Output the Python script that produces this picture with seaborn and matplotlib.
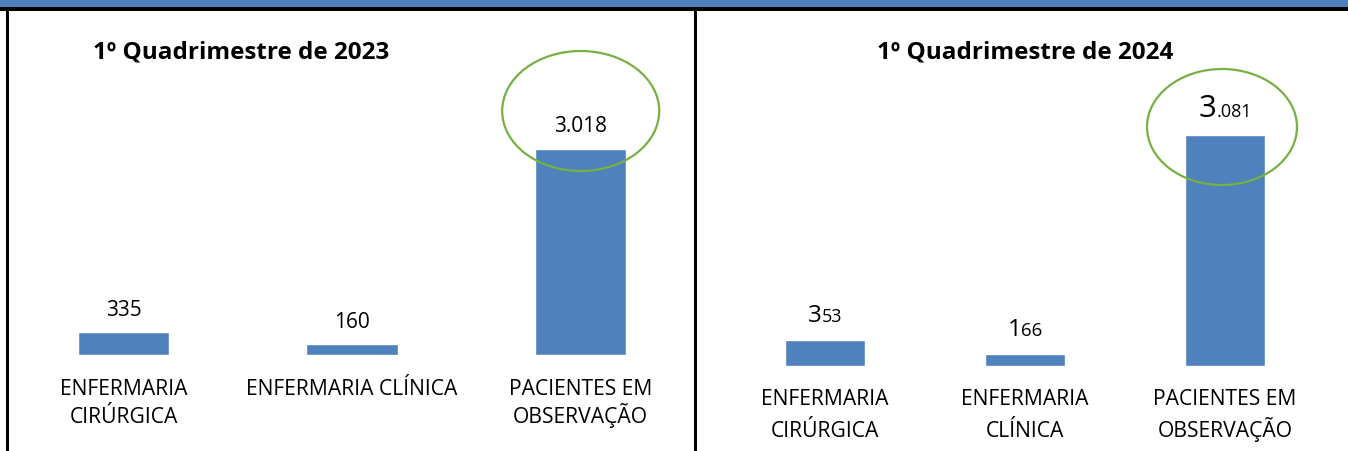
import matplotlib
matplotlib.use("Agg")
import matplotlib.pyplot as plt
from matplotlib.patches import Rectangle, Ellipse
import pandas as pd
import seaborn as sns

# Internações por setor, 1º quadrimestre
titulo_2023 = "1º Quadrimestre de 2023"
titulo_2024 = "1º Quadrimestre de 2024"
setores_2023 = ["ENFERMARIA\nCIRÚRGICA", "ENFERMARIA CLÍNICA", "PACIENTES EM\nOBSERVAÇÃO"]
setores_2024 = ["ENFERMARIA\nCIRÚRGICA", "ENFERMARIA\nCLÍNICA", "PACIENTES EM\nOBSERVAÇÃO"]
valores_2023 = [335, 160, 3018]
valores_2024 = [353, 166, 3081]

AZUL = "#4F81BD"
VERDE = "#77B043"
W, H, DPI = 1348, 452, 100

sns.set_theme(style="white")
plt.rcParams["font.family"] = ["Open Sans", "DejaVu Sans"]

fig = plt.figure(figsize=(W / DPI, H / DPI), dpi=DPI)


def fx(px):
    return px / W


def fy(py):
    return 1 - py / H


def fmt(v):
    return f"{v:,}".replace(",", ".")


# moldura: faixa azul no topo, linha preta e divisórias
fig.add_artist(Rectangle((0, fy(7.5)), 1, 7.5 / H, transform=fig.transFigure,
                         color=AZUL, lw=0))
fig.add_artist(Rectangle((0, fy(12)), 1, 4.5 / H, transform=fig.transFigure,
                         color="black", lw=0))
fig.add_artist(Rectangle((fx(5.5), 0), 3.5 / W, fy(12), transform=fig.transFigure,
                         color="black", lw=0))
fig.add_artist(Rectangle((fx(694), 0), 3 / W, fy(12), transform=fig.transFigure,
                         color="black", lw=0))

ax1 = fig.add_axes([fx(9.25), fy(356), fx(685.75), 336 / H])
ax2 = fig.add_axes([fx(725), fy(367), fx(600), 347 / H])

df23 = pd.DataFrame({"setor": setores_2023, "total": valores_2023})
df24 = pd.DataFrame({"setor": setores_2024, "total": valores_2024})

sns.barplot(data=df23, x="setor", y="total", color=AZUL, saturation=1,
            width=0.4, ax=ax1)
sns.barplot(data=df24, x="setor", y="total", color=AZUL, saturation=1,
            width=0.4, ax=ax2)

ax1.set_ylim(0, 336 * 3018 / 206)
ax2.set_ylim(0, 347 * 3081 / 231)

# nomes dos setores, uma linha por vez, com linhas de base fixas (pt abaixo do eixo)
for ax, setores, linhas_pt in ((ax1, setores_2023, (28.1, 48.3)),
                               (ax2, setores_2024, (27.4, 50.4))):
    ax.set_xlim(-0.5, 2.5)
    ax.set_xlabel("")
    ax.set_ylabel("")
    ax.set_yticks([])
    ax.set_xticks(range(len(setores)), [""] * len(setores))
    ax.tick_params(axis="x", length=0)
    for s in ax.spines.values():
        s.set_visible(False)
    ax.patch.set_alpha(0)
    for i, nome in enumerate(setores):
        for j, linha in enumerate(nome.split("\n")):
            ax.annotate(linha, (i, 0), xytext=(0, -linhas_pt[j]),
                        textcoords="offset points", ha="center", va="baseline",
                        fontsize=15.2, color="black", annotation_clip=False)

# rótulos de 2023
ax1.bar_label(ax1.containers[0], labels=[fmt(v) for v in valores_2023],
              padding=9, fontsize=15, color="black")

# rótulos de 2024: primeiro dígito maior
tam_inicial = [17.5, 17.5, 22.5]
tam_resto = [13, 13.5, 13]
pares = []
for i, v in enumerate(valores_2024):
    s = fmt(v)
    a = ax2.annotate(s[0], (i, v), xytext=(0, 13.7), textcoords="offset points",
                     ha="right", va="baseline", fontsize=tam_inicial[i], color="black")
    b = ax2.annotate(s[1:], (i, v), xytext=(0, 13.7), textcoords="offset points",
                     ha="left", va="baseline", fontsize=tam_resto[i], color="black")
    pares.append((a, b))

fig.canvas.draw()
r = fig.canvas.get_renderer()
for a, b in pares:
    wa = a.get_window_extent(r).width
    wb = b.get_window_extent(r).width
    dx = (wa - wb) / 2 * 72 / DPI
    a.xyann = (dx, 13.7)
    b.xyann = (dx, 13.7)

# destaque dos pacientes em observação
ax1.add_patch(Ellipse((2, 3018 + 38 * 3018 / 206), 157 / 228.5, 120 * 3018 / 206,
                      fill=False, ec=VERDE, lw=1.6, clip_on=False))
ax2.add_patch(Ellipse((2 - 0.015, 3081 + 8 * 3081 / 231), 150 / 200, 116 * 3081 / 231,
                      fill=False, ec=VERDE, lw=1.6, clip_on=False))

fig.text(fx(241), fy(52), titulo_2023, ha="center", va="center",
         fontsize=17.5, fontweight="bold", color="black")
fig.text(fx(1025.5), fy(52), titulo_2024, ha="center", va="center",
         fontsize=17.5, fontweight="bold", color="black")

fig.savefig("out.png", dpi=DPI, facecolor="white")
